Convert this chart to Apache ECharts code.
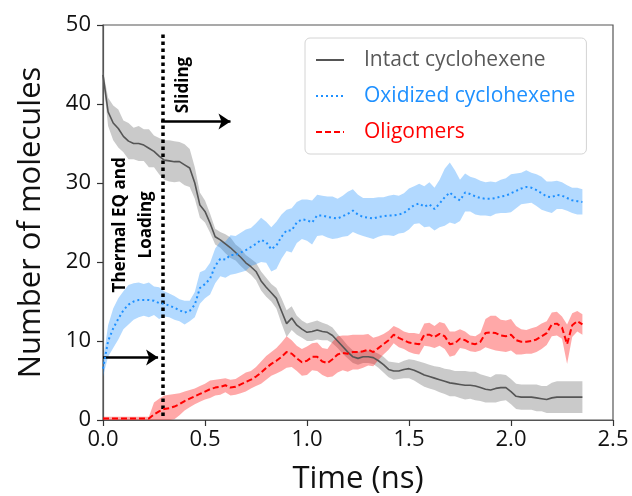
<!DOCTYPE html>
<html>
<head>
<meta charset="utf-8">
<script src="https://cdn.jsdelivr.net/npm/echarts@6/dist/echarts.min.js"></script>
<style>
html,body{margin:0;padding:0;background:#fff;}
#c{width:632px;height:496px;}
</style>
</head>
<body>
<div id="c"></div>
<script>
// ---- data (time in ns, number of molecules) ----
const time = [0,0.025,0.05,0.075,0.1,0.125,0.15,0.175,0.2,0.225,0.25,0.275,0.3,0.325,0.35,0.375,0.4,0.425,0.45,0.475,
0.5,0.525,0.55,0.575,0.6,0.625,0.65,0.675,0.7,0.725,0.75,0.775,0.8,0.825,0.85,0.875,0.9,0.925,0.95,0.975,
1.0,1.025,1.05,1.075,1.1,1.125,1.15,1.175,1.2,1.225,1.25,1.275,1.3,1.325,1.35,1.375,1.4,1.425,1.45,1.475,
1.5,1.525,1.55,1.575,1.6,1.625,1.65,1.675,1.7,1.725,1.75,1.775,1.8,1.825,1.85,1.875,1.9,1.925,1.95,1.975,
2.0,2.025,2.05,2.075,2.1,2.125,2.15,2.175,2.2,2.225,2.25,2.275,2.3,2.325,2.35];

const intact = [43.7,39.0,37.6,36.9,35.9,35.3,35.0,35.0,34.8,34.4,34.0,33.4,32.9,32.8,32.7,32.7,32.3,31.9,30.0,27.2,
26.4,24.9,23.2,22.8,22.3,21.8,21.2,20.6,19.9,19.4,18.8,17.6,16.8,16.1,15.4,13.8,12.2,12.9,12.0,11.5,
11.1,11.2,11.4,11.2,11.1,10.7,10.0,9.3,8.6,8.0,7.8,8.0,8.0,7.9,7.5,7.0,6.4,6.2,6.2,6.4,
6.5,6.3,6.0,5.7,5.5,5.3,5.1,4.9,4.7,4.6,4.5,4.4,4.4,4.3,4.1,3.9,3.8,4.0,4.1,4.1,
3.6,3.0,2.9,2.9,2.9,2.8,2.7,2.6,2.8,2.9,2.9,2.9,2.9,2.9,2.9];
const intactSd = [0.5,1.8,2.2,2.4,2.0,2.3,2.0,2.2,2.0,2.4,2.0,2.3,2.5,2.6,2.6,2.5,2.6,2.4,2.0,1.6,
1.4,1.2,1.0,1.0,1.2,1.3,1.0,1.1,1.0,1.0,1.1,1.2,1.2,1.1,1.3,1.6,1.7,1.5,1.2,1.1,
1.1,1.2,1.2,1.1,1.0,1.0,0.9,0.9,0.8,0.8,0.8,0.8,0.8,0.8,0.9,1.0,1.0,1.1,1.0,1.1,
1.2,1.3,1.4,1.5,1.5,1.5,1.6,1.6,1.7,1.6,1.7,1.8,1.7,1.8,1.7,1.7,1.6,1.8,1.7,1.6,
1.6,1.6,1.6,1.6,1.6,1.7,1.6,1.7,1.9,2.0,2.0,2.0,2.0,2.0,2.0];

const oxidized = [6.5,10.0,11.6,12.8,13.9,14.6,15.0,15.2,15.2,15.2,15.1,14.8,14.7,14.5,14.2,13.9,13.6,13.8,14.6,16.7,
17.2,17.9,19.5,20.4,20.3,20.9,20.9,21.2,21.5,21.9,22.3,22.8,22.5,21.6,22.1,23.2,24.0,24.0,25.0,25.4,
25.3,25.0,25.9,25.9,25.7,25.6,25.5,25.8,26.1,26.5,26.0,25.7,25.6,25.5,25.7,25.8,25.9,25.9,26.0,26.2,
26.7,27.2,27.4,27.0,27.3,26.7,27.4,28.2,28.8,28.2,27.8,28.8,28.6,28.3,28.1,28.0,28.0,28.1,28.3,28.4,
28.7,29.0,29.3,29.5,29.4,29.1,28.7,28.3,28.2,28.5,28.4,28.1,27.8,27.7,27.6];
const oxidizedSd = [1.0,2.0,2.5,2.6,2.4,2.5,2.3,2.2,2.0,2.2,1.8,2.0,1.6,1.5,1.5,1.4,1.5,1.3,1.6,2.0,
1.8,2.0,2.2,2.2,2.3,2.5,2.4,2.5,2.6,2.4,2.6,2.8,2.6,2.8,3.0,2.8,2.6,2.8,2.6,2.5,
2.6,2.8,2.6,2.5,2.6,2.7,2.5,2.6,2.8,2.7,2.5,2.4,2.5,2.6,2.5,2.4,2.5,2.6,2.4,2.5,
2.6,2.4,2.5,2.6,2.8,2.7,3.0,3.6,3.8,3.4,2.6,2.4,2.2,2.3,2.2,2.1,2.2,2.0,2.1,2.2,
2.4,2.2,2.0,2.1,1.9,2.0,2.1,1.9,2.0,1.8,1.7,1.6,1.6,1.7,1.6];

const oligomers = [0.2,0.2,0.2,0.2,0.2,0.2,0.2,0.2,0.2,0.2,0.7,1.1,1.4,1.5,1.7,2.0,2.4,2.7,3.0,3.3,
3.6,3.9,4.1,4.2,4.4,4.1,4.2,4.5,4.8,5.1,5.5,6.0,6.6,7.1,7.5,8.0,8.6,8.4,7.8,7.3,
7.5,8.0,8.0,7.4,7.2,7.7,8.3,8.5,8.4,8.6,8.6,8.7,8.9,8.6,9.1,9.6,10.1,10.8,10.4,10.1,
9.8,9.7,9.6,10.8,10.8,10.5,10.9,10.6,9.6,9.7,10.3,10.1,9.7,9.6,9.9,11.0,11.1,11.0,10.7,10.6,
10.8,10.1,9.9,9.9,10.0,10.2,10.6,11.0,12.1,12.2,11.7,9.6,12.0,12.5,12.1];
const oligomersSd = [0.2,0.2,0.2,0.2,0.2,0.2,0.2,0.2,0.2,0.2,1.5,1.6,1.7,1.7,1.6,1.4,1.2,1.1,1.0,1.0,
1.0,1.1,1.0,1.0,0.9,1.0,1.0,1.1,1.2,1.1,1.2,1.4,1.5,1.5,1.6,1.8,2.0,1.7,1.6,1.7,
1.8,1.7,1.8,1.7,1.8,2.2,2.3,2.2,2.3,2.2,2.2,2.1,2.0,1.8,1.5,1.3,1.2,1.1,1.2,1.1,
1.2,1.3,1.3,1.4,1.5,1.4,1.5,1.6,1.6,1.5,1.2,1.1,1.0,1.0,1.1,1.8,2.1,2.2,2.0,2.0,
2.0,1.8,1.6,1.5,1.6,1.6,1.6,1.5,1.5,1.5,1.4,2.5,1.5,1.3,1.3];

const seriesNames = ['Intact cyclohexene','Oxidized cyclohexene','Oligomers'];
const xTicks = [0, 0.5, 1.0, 1.5, 2.0, 2.5];
const yTicks = [0, 10, 20, 30, 40, 50];

// annotation positions in data units
const phaseBoundary = 0.292;
const slidingArrow = [[0.285, 37.8],[0.625, 37.8]];
const loadingArrow = [[0.0, 7.9],[0.27, 7.9]];

// ---- build ----
const FONT = 'Open Sans';
const colors = {intact:'#555555', ox:'#1e90ff', olig:'#ff0000'};

function pairs(vals){ return time.map((t,i)=>[t, vals[i]]); }

// shaded +/- band drawn as a polygon through the chart's own coordinate system
function band(name, vals, sd, fill){
  return {
    name: name+'_band', type:'custom', coordinateSystem:'cartesian2d', silent:true, z:1, clip:true,
    data:[[time[0], vals[0]]],
    renderItem:function(params, api){
      const up = time.map((t,i)=>api.coord([t, vals[i]+sd[i]]));
      const lo = time.map((t,i)=>api.coord([t, Math.max(0, vals[i]-sd[i])])).reverse();
      return {type:'polygon', shape:{points: up.concat(lo)}, style:{fill:fill, stroke:null}};
    }
  };
}

const chart = echarts.init(document.getElementById('c'), null, {renderer:'canvas'});

const option = {
  animation:false,
  backgroundColor:'#ffffff',
  grid:{left:103, right:19, top:25, bottom:76, containLabel:false, outerBoundsMode:'none',
        show:true, borderColor:'#555', borderWidth:1.2, backgroundColor:'transparent'},
  legend:{
    orient:'vertical', left:305, top:38,
    padding:[10,11,10,10],
    itemWidth:28, itemHeight:14, itemGap:12,
    itemStyle:{opacity:0},
    backgroundColor:'#ffffff', borderColor:'#d4d4d4', borderWidth:1, borderRadius:5,
    textStyle:{fontSize:21, fontFamily:FONT, lineHeight:24, padding:[0,0,0,15]},
    data:[
      {name:seriesNames[0], textStyle:{color:'#595959'}},
      {name:seriesNames[1], textStyle:{color:'#1e90ff'}},
      {name:seriesNames[2], textStyle:{color:'#ff0000'}}
    ]
  },
  xAxis:{
    type:'value', min:xTicks[0], max:xTicks[xTicks.length-1], interval:0.5,
    name:'Time (ns)', nameLocation:'middle', nameGap:44,
    nameTextStyle:{fontSize:31, fontFamily:FONT, color:'#111'},
    axisLine:{show:true, lineStyle:{color:'#555', width:1.2}},
    axisTick:{show:true, length:6, lineStyle:{color:'#333', width:1.2}},
    axisLabel:{fontSize:22, fontFamily:FONT, color:'#111', margin:9, formatter:v=>v.toFixed(1)},
    splitLine:{show:false}
  },
  yAxis:{
    type:'value', min:yTicks[0], max:yTicks[yTicks.length-1], interval:10,
    name:'Number of molecules', nameLocation:'middle', nameGap:56,
    nameTextStyle:{fontSize:31, fontFamily:FONT, color:'#111'},
    axisLine:{show:true, lineStyle:{color:'#555', width:1.2}},
    axisTick:{show:true, length:6, lineStyle:{color:'#333', width:1.2}},
    axisLabel:{fontSize:22, fontFamily:FONT, color:'#111', margin:12},
    splitLine:{show:false}
  },
  series:[
    band('intact', intact, intactSd, 'rgba(128,128,128,0.42)'),
    band('ox', oxidized, oxidizedSd, 'rgba(30,144,255,0.34)'),
    band('olig', oligomers, oligomersSd, 'rgba(255,0,0,0.34)'),
    {name:seriesNames[0], type:'line', data:pairs(intact), symbol:'none', z:5,
     lineStyle:{color:colors.intact, width:1.6}, itemStyle:{color:colors.intact}},
    {name:seriesNames[1], type:'line', data:pairs(oxidized), symbol:'none', z:5,
     lineStyle:{color:colors.ox, width:2, type:[2,3]}, itemStyle:{color:colors.ox}},
    {name:seriesNames[2], type:'line', data:pairs(oligomers), symbol:'none', z:5,
     lineStyle:{color:colors.olig, width:2, type:[6,3]}, itemStyle:{color:colors.olig}},
    {name:'boundary', type:'line', data:[], z:8, silent:true,
     markLine:{silent:true, symbol:['none','none'], label:{show:false},
       lineStyle:{color:'#000', width:3.5, type:[3.5,3.5]},
       data:[[{coord:[phaseBoundary,0.5]},{coord:[phaseBoundary,49.2]}]]}},
    {name:'arrows', type:'line', data:[], z:8, silent:true,
     markLine:{silent:true, symbol:['none','arrow'], symbolSize:12, label:{show:false},
       lineStyle:{color:'#000', width:2.5, type:'solid'},
       itemStyle:{color:'#000'},
       data:[[{coord:slidingArrow[0]},{coord:slidingArrow[1]}],
             [{coord:loadingArrow[0]},{coord:loadingArrow[1]}]]}}
  ]
};
chart.setOption(option);

// rotated annotation text placed through the chart's own coordinate system
const pSliding = chart.convertToPixel({gridIndex:0}, [0.392, 42.4]);
const pThermal = chart.convertToPixel({gridIndex:0}, [0.147, 24.7]);
chart.setOption({
  graphic:[
    {type:'text', x:pSliding[0], y:pSliding[1], rotation:Math.PI/2, z:100,
     style:{text:'Sliding', fontSize:17, fontWeight:'bold', fontFamily:FONT, fill:'#000',
            align:'center', verticalAlign:'middle'}},
    {type:'text', x:pThermal[0], y:pThermal[1], rotation:Math.PI/2, z:100,
     style:{text:'Thermal EQ and\nLoading', fontSize:17, fontWeight:'bold', fontFamily:FONT, fill:'#000',
            align:'center', verticalAlign:'middle', lineHeight:26}}
  ]
});
</script>
</body>
</html>
